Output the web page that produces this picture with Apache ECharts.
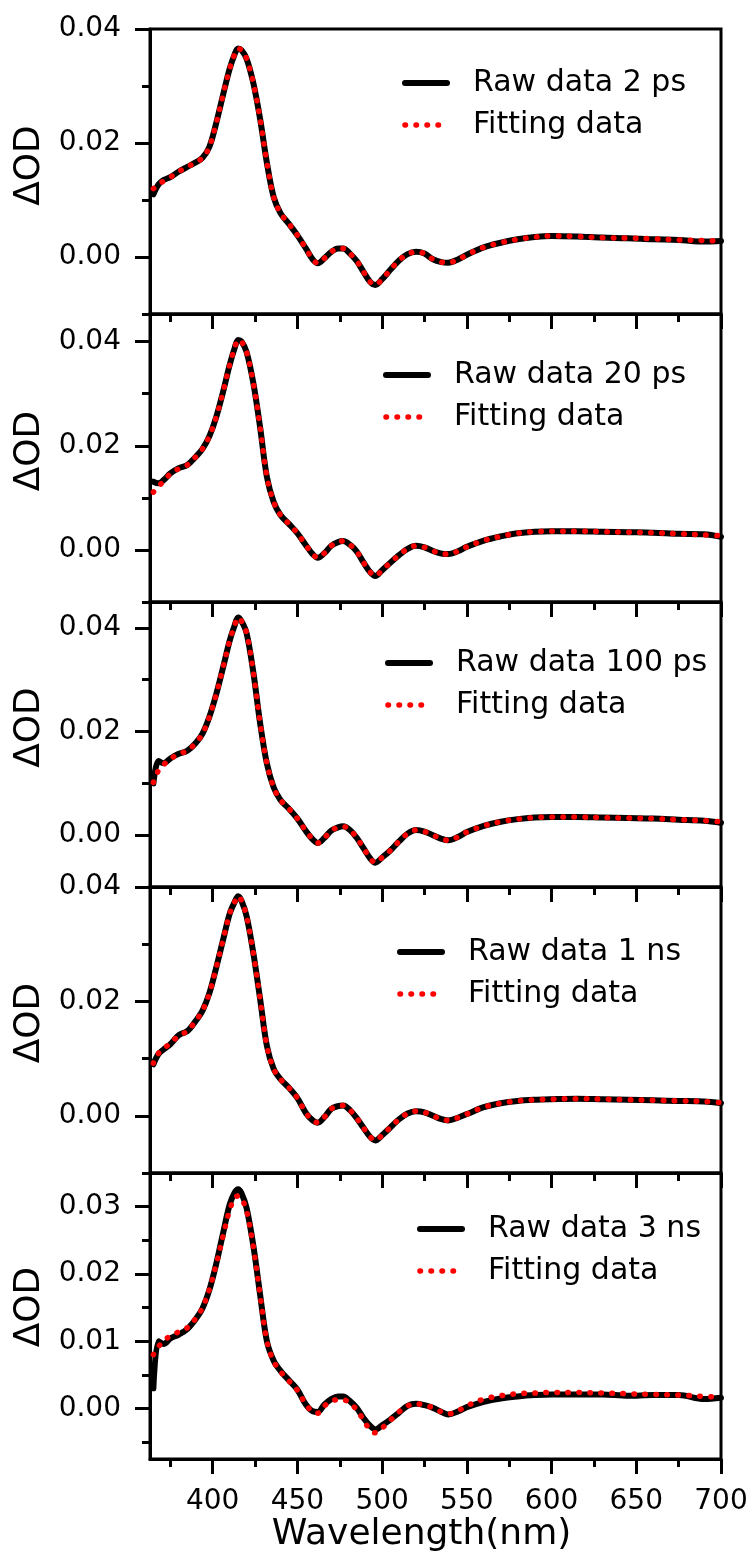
<!DOCTYPE html>
<html><head><meta charset="utf-8">
<script src="https://cdn.jsdelivr.net/npm/echarts@6/dist/echarts.min.js"></script>
<style>html,body{margin:0;padding:0;background:#fff}#c{width:753px;height:1555px}</style>
</head><body><div id="c"></div>
<script>
// ---------- data ----------
const wavelength = [365, 368, 371, 375, 380, 385, 390, 394, 398, 402, 406, 410, 413, 415, 417, 420, 424, 428, 432, 436, 440, 445, 450, 455, 459, 462, 466, 470, 474, 477, 481, 485, 489, 493, 496, 500, 505, 510, 515, 520, 525, 530, 535, 539, 545, 550, 560, 570, 580, 590, 600, 615, 630, 645, 660, 675, 690, 700];

const raw2ps = [0.0110, 0.0127, 0.0135, 0.0140, 0.0150, 0.0158, 0.0166, 0.0174, 0.0193, 0.0234, 0.0283, 0.0330, 0.0356, 0.0366, 0.0363, 0.0348, 0.0305, 0.0242, 0.0165, 0.0105, 0.0077, 0.0058, 0.0038, 0.0015, -0.0004, -0.0011, -0.0002, 0.0009, 0.0015, 0.0015, 0.0006, -0.0007, -0.0026, -0.0044, -0.0049, -0.0039, -0.0022, -0.0006, 0.0005, 0.0009, 0.0006, -0.0004, -0.0009, -0.0010, -0.0004, 0.0004, 0.0017, 0.0025, 0.0031, 0.0035, 0.0037, 0.0036, 0.0034, 0.0033, 0.0031, 0.0030, 0.0027, 0.0028];
const fit2ps = [0.0120, 0.0128, 0.0133, 0.0140, 0.0150, 0.0158, 0.0166, 0.0174, 0.0193, 0.0234, 0.0283, 0.0330, 0.0356, 0.0366, 0.0363, 0.0348, 0.0305, 0.0242, 0.0165, 0.0105, 0.0077, 0.0058, 0.0038, 0.0015, -0.0004, -0.0011, -0.0002, 0.0009, 0.0015, 0.0015, 0.0006, -0.0007, -0.0026, -0.0044, -0.0049, -0.0039, -0.0022, -0.0006, 0.0005, 0.0009, 0.0006, -0.0004, -0.0009, -0.0010, -0.0004, 0.0004, 0.0017, 0.0025, 0.0031, 0.0035, 0.0037, 0.0036, 0.0034, 0.0033, 0.0032, 0.0030, 0.0029, 0.0028];

const raw20ps = [0.0131, 0.0128, 0.0134, 0.0147, 0.0157, 0.0163, 0.0179, 0.0194, 0.0218, 0.0254, 0.0302, 0.0355, 0.0388, 0.0403, 0.0400, 0.0380, 0.0320, 0.0235, 0.0140, 0.0092, 0.0067, 0.0050, 0.0032, 0.0009, -0.0008, -0.0015, -0.0006, 0.0008, 0.0015, 0.0017, 0.0010, -0.0003, -0.0024, -0.0043, -0.0050, -0.0039, -0.0024, -0.0010, 0.0002, 0.0008, 0.0005, -0.0002, -0.0007, -0.0008, -0.0002, 0.0006, 0.0018, 0.0026, 0.0032, 0.0035, 0.0036, 0.0036, 0.0035, 0.0034, 0.0033, 0.0031, 0.0030, 0.0025];
const fit20ps = [0.0111, 0.0122, 0.0132, 0.0146, 0.0156, 0.0163, 0.0179, 0.0194, 0.0218, 0.0254, 0.0302, 0.0355, 0.0388, 0.0403, 0.0400, 0.0380, 0.0320, 0.0235, 0.0140, 0.0092, 0.0067, 0.0050, 0.0032, 0.0009, -0.0008, -0.0015, -0.0006, 0.0008, 0.0015, 0.0017, 0.0010, -0.0003, -0.0024, -0.0043, -0.0050, -0.0039, -0.0024, -0.0010, 0.0002, 0.0008, 0.0005, -0.0002, -0.0007, -0.0008, -0.0002, 0.0006, 0.0018, 0.0026, 0.0032, 0.0035, 0.0036, 0.0036, 0.0035, 0.0034, 0.0033, 0.0031, 0.0029, 0.0027];

const raw100ps = [0.0100, 0.0143, 0.0139, 0.0148, 0.0157, 0.0163, 0.0178, 0.0196, 0.0228, 0.0271, 0.0322, 0.0375, 0.0405, 0.0420, 0.0413, 0.0390, 0.0314, 0.0216, 0.0138, 0.0092, 0.0068, 0.0051, 0.0032, 0.0008, -0.0008, -0.0015, -0.0005, 0.0009, 0.0015, 0.0017, 0.0010, -0.0005, -0.0025, -0.0045, -0.0053, -0.0043, -0.0029, -0.0012, 0.0003, 0.0010, 0.0007, 0.0000, -0.0007, -0.0010, -0.0003, 0.0006, 0.0018, 0.0026, 0.0031, 0.0034, 0.0035, 0.0035, 0.0034, 0.0033, 0.0032, 0.0030, 0.0028, 0.0024];
const fit100ps = [0.0102, 0.0125, 0.0136, 0.0147, 0.0157, 0.0163, 0.0178, 0.0196, 0.0228, 0.0271, 0.0322, 0.0375, 0.0405, 0.0420, 0.0413, 0.0390, 0.0314, 0.0216, 0.0138, 0.0092, 0.0068, 0.0051, 0.0032, 0.0008, -0.0008, -0.0015, -0.0005, 0.0009, 0.0015, 0.0017, 0.0010, -0.0005, -0.0025, -0.0045, -0.0053, -0.0043, -0.0029, -0.0012, 0.0003, 0.0010, 0.0007, 0.0000, -0.0007, -0.0010, -0.0003, 0.0006, 0.0018, 0.0026, 0.0031, 0.0034, 0.0035, 0.0035, 0.0034, 0.0033, 0.0032, 0.0030, 0.0028, 0.0026];

const raw1ns = [0.0090, 0.0108, 0.0116, 0.0125, 0.0141, 0.0148, 0.0166, 0.0184, 0.0214, 0.0258, 0.0306, 0.0353, 0.0374, 0.0384, 0.0376, 0.0349, 0.0284, 0.0204, 0.0122, 0.0082, 0.0064, 0.0049, 0.0031, 0.0005, -0.0008, -0.0012, -0.0002, 0.0012, 0.0017, 0.0018, 0.0010, -0.0004, -0.0021, -0.0037, -0.0043, -0.0034, -0.0020, -0.0006, 0.0004, 0.0008, 0.0006, 0.0000, -0.0006, -0.0008, -0.0003, 0.0003, 0.0015, 0.0022, 0.0026, 0.0028, 0.0029, 0.0030, 0.0029, 0.0028, 0.0027, 0.0026, 0.0025, 0.0022];
const fit1ns = [0.0092, 0.0109, 0.0117, 0.0127, 0.0140, 0.0148, 0.0166, 0.0184, 0.0214, 0.0258, 0.0306, 0.0353, 0.0374, 0.0384, 0.0376, 0.0349, 0.0284, 0.0204, 0.0122, 0.0082, 0.0064, 0.0049, 0.0031, 0.0005, -0.0008, -0.0012, -0.0002, 0.0012, 0.0017, 0.0018, 0.0010, -0.0004, -0.0021, -0.0037, -0.0043, -0.0034, -0.0020, -0.0006, 0.0004, 0.0008, 0.0006, 0.0000, -0.0006, -0.0008, -0.0003, 0.0003, 0.0015, 0.0022, 0.0026, 0.0028, 0.0029, 0.0030, 0.0029, 0.0028, 0.0027, 0.0026, 0.0025, 0.0023];

const raw3ns = [0.0030, 0.0100, 0.0096, 0.0104, 0.0110, 0.0118, 0.0133, 0.0149, 0.0176, 0.0214, 0.0259, 0.0303, 0.0321, 0.0326, 0.0320, 0.0298, 0.0242, 0.0169, 0.0100, 0.0071, 0.0056, 0.0042, 0.0028, 0.0006, -0.0004, -0.0005, 0.0006, 0.0014, 0.0018, 0.0018, 0.0011, 0.0001, -0.0014, -0.0026, -0.0031, -0.0025, -0.0016, -0.0006, 0.0004, 0.0007, 0.0005, 0.0001, -0.0005, -0.0009, -0.0004, 0.0002, 0.0010, 0.0015, 0.0018, 0.0020, 0.0021, 0.0021, 0.0021, 0.0019, 0.0020, 0.0020, 0.0014, 0.0016];
const fit3ns = [0.0080, 0.0092, 0.0100, 0.0108, 0.0114, 0.0120, 0.0134, 0.0150, 0.0177, 0.0213, 0.0255, 0.0295, 0.0313, 0.0316, 0.0312, 0.0294, 0.0240, 0.0168, 0.0100, 0.0070, 0.0055, 0.0041, 0.0027, 0.0006, -0.0005, -0.0007, 0.0004, 0.0011, 0.0013, 0.0013, 0.0008, -0.0002, -0.0017, -0.0032, -0.0036, -0.0029, -0.0017, -0.0005, 0.0004, 0.0007, 0.0005, 0.0001, -0.0005, -0.0008, -0.0003, 0.0004, 0.0014, 0.0019, 0.0022, 0.0023, 0.0024, 0.0024, 0.0023, 0.0022, 0.0021, 0.0020, 0.0018, 0.0017];

const rawLabels = ['Raw data 2 ps', 'Raw data 20 ps', 'Raw data 100 ps', 'Raw data 1 ns', 'Raw data 3 ns'];
const fitLabel = 'Fitting data';
const xTitle = 'Wavelength(nm)';
const yTitle = 'ΔOD';

const xMajorTicks = [400, 450, 500, 550, 600, 650, 700];
const xMinorTicks = [375, 425, 475, 525, 575, 625, 675];
const yMajorTicks = [[0, 0.02, 0.04], [0, 0.02, 0.04], [0, 0.02, 0.04], [0, 0.02, 0.04], [0, 0.01, 0.02, 0.03]];
const yMinorTicks = [[-0.01, 0.01, 0.03], [-0.01, 0.01, 0.03], [-0.01, 0.01, 0.03], [-0.01, 0.01, 0.03], [-0.005, 0.005, 0.015, 0.025]];
const xRange = [363, 700];
const yRanges = [[-0.01, 0.04], [-0.01, 0.0453], [-0.01, 0.045], [-0.01, 0.04], [-0.0075, 0.035]];

const rawSets = [raw2ps, raw20ps, raw100ps, raw1ns, raw3ns];
const fitSets = [fit2ps, fit20ps, fit100ps, fit1ns, fit3ns];

// ---------- layout / style ----------
const FONT = 'DejaVu Sans';
const layout = [
  {top: 29,   height: 285, legLeft: 402, legTop: 68,   nameShift: 6},
  {top: 314,  height: 288, legLeft: 383, legTop: 360,  nameShift: 7},
  {top: 602,  height: 285, legLeft: 385, legTop: 648,  nameShift: 17},
  {top: 887,  height: 286, legLeft: 397, legTop: 937,  nameShift: 7},
  {top: 1173, height: 286, legLeft: 417, legTop: 1214, nameShift: 9}
];
const black = '#000';
const red = '#ff0000';
const lineW = 3;
const rawLine = {color: black, width: 6, cap: 'round', join: 'round'};
const fitLine = {color: red, width: 5.5, type: [0.5, 10.5], cap: 'round'};

const grid = [], xAxis = [], yAxis = [], series = [], legend = [];
layout.forEach((L, i) => {
  const last = i === layout.length - 1;
  grid.push({left: 150, right: 32, top: L.top, height: L.height, show: true,
    borderColor: black, borderWidth: lineW, backgroundColor: 'transparent'});
  // main x axis
  xAxis.push({type: 'value', gridIndex: i, position: 'bottom', min: xRange[0], max: xRange[1],
    axisLine: {show: true, onZero: false, lineStyle: {color: black, width: lineW}},
    axisTick: {show: true, inside: false, length: 15, customValues: xMajorTicks, lineStyle: {color: black, width: lineW}},
    axisLabel: {show: last, customValues: xMajorTicks, margin: 29, color: black, fontFamily: FONT, fontSize: 28},
    splitLine: {show: false},
    name: last ? xTitle : '', nameLocation: 'middle', nameGap: 55,
    nameTextStyle: {color: black, fontFamily: FONT, fontSize: 36, padding: [0, 28, 0, 0]}
  });
  // minor x ticks
  xAxis.push({type: 'value', gridIndex: i, position: 'bottom', offset: 0, min: xRange[0], max: xRange[1],
    axisLine: {show: false, onZero: false},
    axisTick: {show: true, inside: false, length: 8, customValues: xMinorTicks, lineStyle: {color: black, width: lineW}},
    axisLabel: {show: false}, splitLine: {show: false}
  });
  // main y axis
  yAxis.push({type: 'value', gridIndex: i, position: 'left', min: yRanges[i][0], max: yRanges[i][1],
    axisLine: {show: true, onZero: false, lineStyle: {color: black, width: lineW}},
    axisTick: {show: true, inside: false, length: 15, customValues: yMajorTicks[i], lineStyle: {color: black, width: lineW}},
    axisLabel: {show: true, customValues: yMajorTicks[i], margin: 29, color: black, fontFamily: FONT, fontSize: 28,
      formatter: v => Number(v).toFixed(2)},
    splitLine: {show: false},
    name: yTitle, nameLocation: 'middle', nameRotate: 90, nameGap: 100,
    nameTextStyle: {color: black, fontFamily: FONT, fontSize: 36, padding: [0, 0, 0, 2 * L.nameShift]}
  });
  // minor y ticks
  yAxis.push({type: 'value', gridIndex: i, position: 'left', offset: 0, min: yRanges[i][0], max: yRanges[i][1],
    axisLine: {show: false, onZero: false},
    axisTick: {show: true, inside: false, length: 8, customValues: yMinorTicks[i], lineStyle: {color: black, width: lineW}},
    axisLabel: {show: false}, splitLine: {show: false}
  });
  series.push({type: 'line', name: rawLabels[i], xAxisIndex: 2 * i, yAxisIndex: 2 * i,
    data: wavelength.map((w, k) => [w, rawSets[i][k]]),
    symbol: 'none', showSymbol: false, smooth: 0.35, z: 2,
    lineStyle: rawLine, itemStyle: {color: black}});
  series.push({type: 'line', name: fitLabel, xAxisIndex: 2 * i, yAxisIndex: 2 * i,
    data: wavelength.map((w, k) => [w, fitSets[i][k]]),
    symbol: 'none', showSymbol: false, smooth: 0.35, z: 3,
    lineStyle: fitLine, itemStyle: {color: red}});
  legend.push({
    data: [
      {name: rawLabels[i], lineStyle: rawLine, itemStyle: {opacity: 0}},
      {name: fitLabel, lineStyle: fitLine, itemStyle: {opacity: 0}}
    ],
    orient: 'vertical', left: L.legLeft, top: L.legTop,
    itemWidth: 42, itemHeight: 14, itemGap: 12, selectedMode: false, padding: 0,
    itemStyle: {opacity: 0},
    textStyle: {color: black, fontFamily: FONT, fontSize: 30, lineHeight: 30, padding: [0, 0, 0, 21]}});
});

const chart = echarts.init(document.getElementById('c'), null, {renderer: 'canvas'});
chart.setOption({animation: false, backgroundColor: '#fff', grid, xAxis, yAxis, series, legend});
</script></body></html>
